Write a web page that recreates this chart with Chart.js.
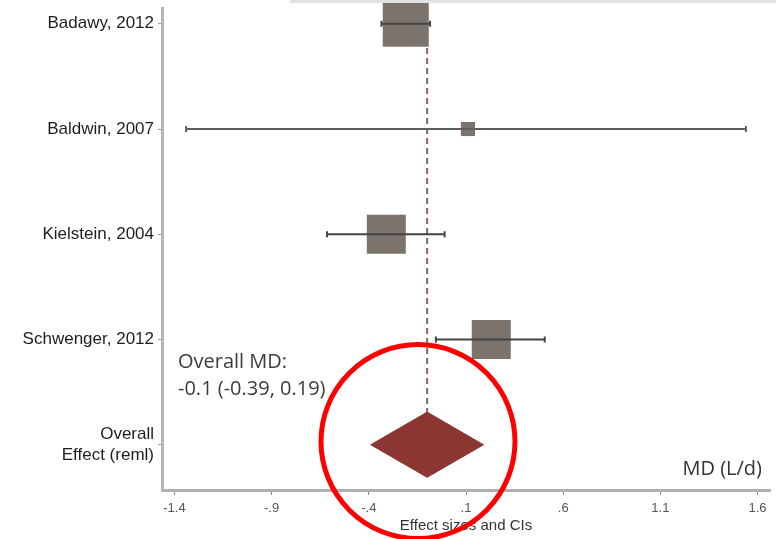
<!DOCTYPE html>
<html>
<head>
<meta charset="utf-8">
<script src="https://cdn.jsdelivr.net/npm/chart.js@4/dist/chart.umd.min.js"></script>
<style>
html,body{margin:0;padding:0;background:#fff;}
#wrap{position:relative;width:776px;height:539px;}
</style>
</head>
<body>
<div id="wrap"><canvas id="c" width="776" height="539"></canvas></div>
<script>
// ---- data ----
const studies = ['Badawy, 2012', 'Baldwin, 2007', 'Kielstein, 2004', 'Schwenger, 2012'];
const meanDiff = [-0.21, 0.11, -0.31, 0.23];
const ciLow = [-0.335, -1.34, -0.615, -0.055];
const ciHigh = [-0.085, 1.54, -0.01, 0.505];
const weights = [39.5, 3.7, 28.4, 28.4];
const overallMD = [-0.1];
const overallLow = [-0.39];
const overallHigh = [0.19];
const overallLabel = ['Overall', 'Effect (reml)'];
const xTickValues = [-1.4, -0.9, -0.4, 0.1, 0.6, 1.1, 1.6];
const xTickLabels = ['-1.4', '-.9', '-.4', '.1', '.6', '1.1', '1.6'];
const summaryText = ['Overall MD:', '-0.1 (-0.39, 0.19)'];
const unitText = 'MD (L/d)';
const axisTitle = 'Effect sizes and CIs';

// ---- derived ----
const nRows = studies.length + 1;
const rowY = studies.map((s, i) => nRows - i);   // 5,4,3,2
const overallY = 1;
const rowLabels = studies.concat([overallLabel]);
const diamondHalf = 0.31;
const Y_MIN = 0.57, Y_MAX = 5.15;

const ciDatasets = studies.map((s, i) => ({
  label: 'ci' + i,
  data: [{x: ciLow[i], y: rowY[i]}, {x: ciHigh[i], y: rowY[i]}],
  showLine: true,
  borderColor: i === 1 ? '#5e5e5e' : '#444',
  backgroundColor: i === 1 ? '#5e5e5e' : '#444',
  borderWidth: 2,
  pointStyle: 'line',
  rotation: 90,
  pointRadius: 3,
  pointBorderWidth: 2,
  order: 1,
  clip: false
}));

const boxDataset = {
  label: 'box',
  data: studies.map((s, i) => ({x: meanDiff[i], y: rowY[i]})),
  pointStyle: 'rect',
  pointRadius: weights.map(w => (7.32 * Math.sqrt(w)) / (2 * Math.SQRT1_2)),
  backgroundColor: '#7c736c',
  borderWidth: 0,
  order: 2,
  clip: false
};

const refLine = {
  label: 'ref',
  data: [{x: overallMD[0], y: Y_MAX}, {x: overallMD[0], y: overallY + diamondHalf}],
  showLine: true,
  borderColor: '#8a6262',
  borderWidth: 2,
  borderDash: [6, 4],
  pointRadius: 0,
  order: 3
};

const diamond = {
  label: 'overall',
  data: [
    {x: overallLow[0], y: overallY},
    {x: overallMD[0], y: overallY + diamondHalf},
    {x: overallHigh[0], y: overallY},
    {x: overallMD[0], y: overallY - diamondHalf},
    {x: overallLow[0], y: overallY}
  ],
  showLine: true,
  fill: 'shape',
  borderColor: '#8b3632',
  backgroundColor: '#8b3632',
  borderWidth: 1,
  pointRadius: 0,
  tension: 0,
  order: 2
};

const annot = {
  id: 'annot',
  afterDatasetsDraw(chart) {
    const ctx = chart.ctx, a = chart.chartArea;
    const ys = chart.scales.y;
    ctx.save();
    // faint top strip
    ctx.fillStyle = '#e2e2e2';
    ctx.fillRect(290, 0, chart.width - 290, 3);
    ctx.fillStyle = '#3c3c3c';
    ctx.font = '20px "Open Sans"';
    ctx.textAlign = 'left';
    ctx.textBaseline = 'middle';
    const ty = ys.getPixelForValue(overallY + 0.78);
    ctx.fillText(summaryText[0], a.left + 16, ty);
    ctx.fillText(summaryText[1], a.left + 16, ty + 27);
    ctx.textAlign = 'right';
    ctx.fillStyle = '#333';
    ctx.fillText(unitText, a.right - 8, a.bottom - 21);
    ctx.restore();
  },
  afterDraw(chart) {
    const ctx = chart.ctx;
    const xs = chart.scales.x, ys = chart.scales.y;
    ctx.save();
    ctx.strokeStyle = '#ff0000';
    ctx.lineWidth = 5;
    ctx.beginPath();
    ctx.arc(xs.getPixelForValue(overallMD[0] - 0.047), ys.getPixelForValue(overallY + 0.03), 97, 0, Math.PI * 2);
    ctx.stroke();
    ctx.restore();
  }
};

new Chart(document.getElementById('c'), {
  type: 'scatter',
  data: { datasets: [...ciDatasets, boxDataset, diamond, refLine] },
  options: {
    responsive: false,
    animation: false,
    layout: { autoPadding: false, padding: { left: 0, right: 6, top: 8, bottom: 0 } },
    plugins: { legend: { display: false }, tooltip: { enabled: false } },
    scales: {
      x: {
        type: 'linear',
        min: -1.464, max: 1.664,
        afterBuildTicks: s => { s.ticks = xTickValues.map(v => ({value: v})); },
        ticks: {
          callback: (v, i) => xTickLabels[i],
          color: '#555',
          font: { family: '"Liberation Sans", Arial', size: 13 },
          padding: 6,
          maxRotation: 0,
          autoSkip: false
        },
        grid: { drawOnChartArea: false, drawTicks: true, tickLength: 5, color: '#888', lineWidth: 1 },
        border: { display: true, color: '#b0b0b0', width: 3 },
        title: {
          display: true, text: axisTitle, color: '#333',
          font: { family: '"Liberation Sans", Arial', size: 15 },
          padding: { top: 0, bottom: 4 }
        },
        afterFit: s => { s.height = 49; s.paddingLeft = 0; s.paddingRight = 0; }
      },
      y: {
        type: 'linear',
        min: Y_MIN, max: Y_MAX,
        afterBuildTicks: s => { s.ticks = rowLabels.map((l, i) => ({value: nRows - i})); },
        ticks: {
          callback: (v) => rowLabels[nRows - v],
          color: '#1e1e1e',
          font: { family: '"Liberation Sans", Arial', size: 17, lineHeight: 1.25 },
          padding: 4,
          autoSkip: false
        },
        grid: { drawOnChartArea: false, drawTicks: true, tickLength: 4, color: '#999', lineWidth: 1 },
        border: { display: true, color: '#b5b5b5', width: 3 },
        afterFit: s => { s.width = 162; s.paddingTop = 0; s.paddingBottom = 0; }
      }
    }
  },
  plugins: [annot]
});
</script>
</body>
</html>
